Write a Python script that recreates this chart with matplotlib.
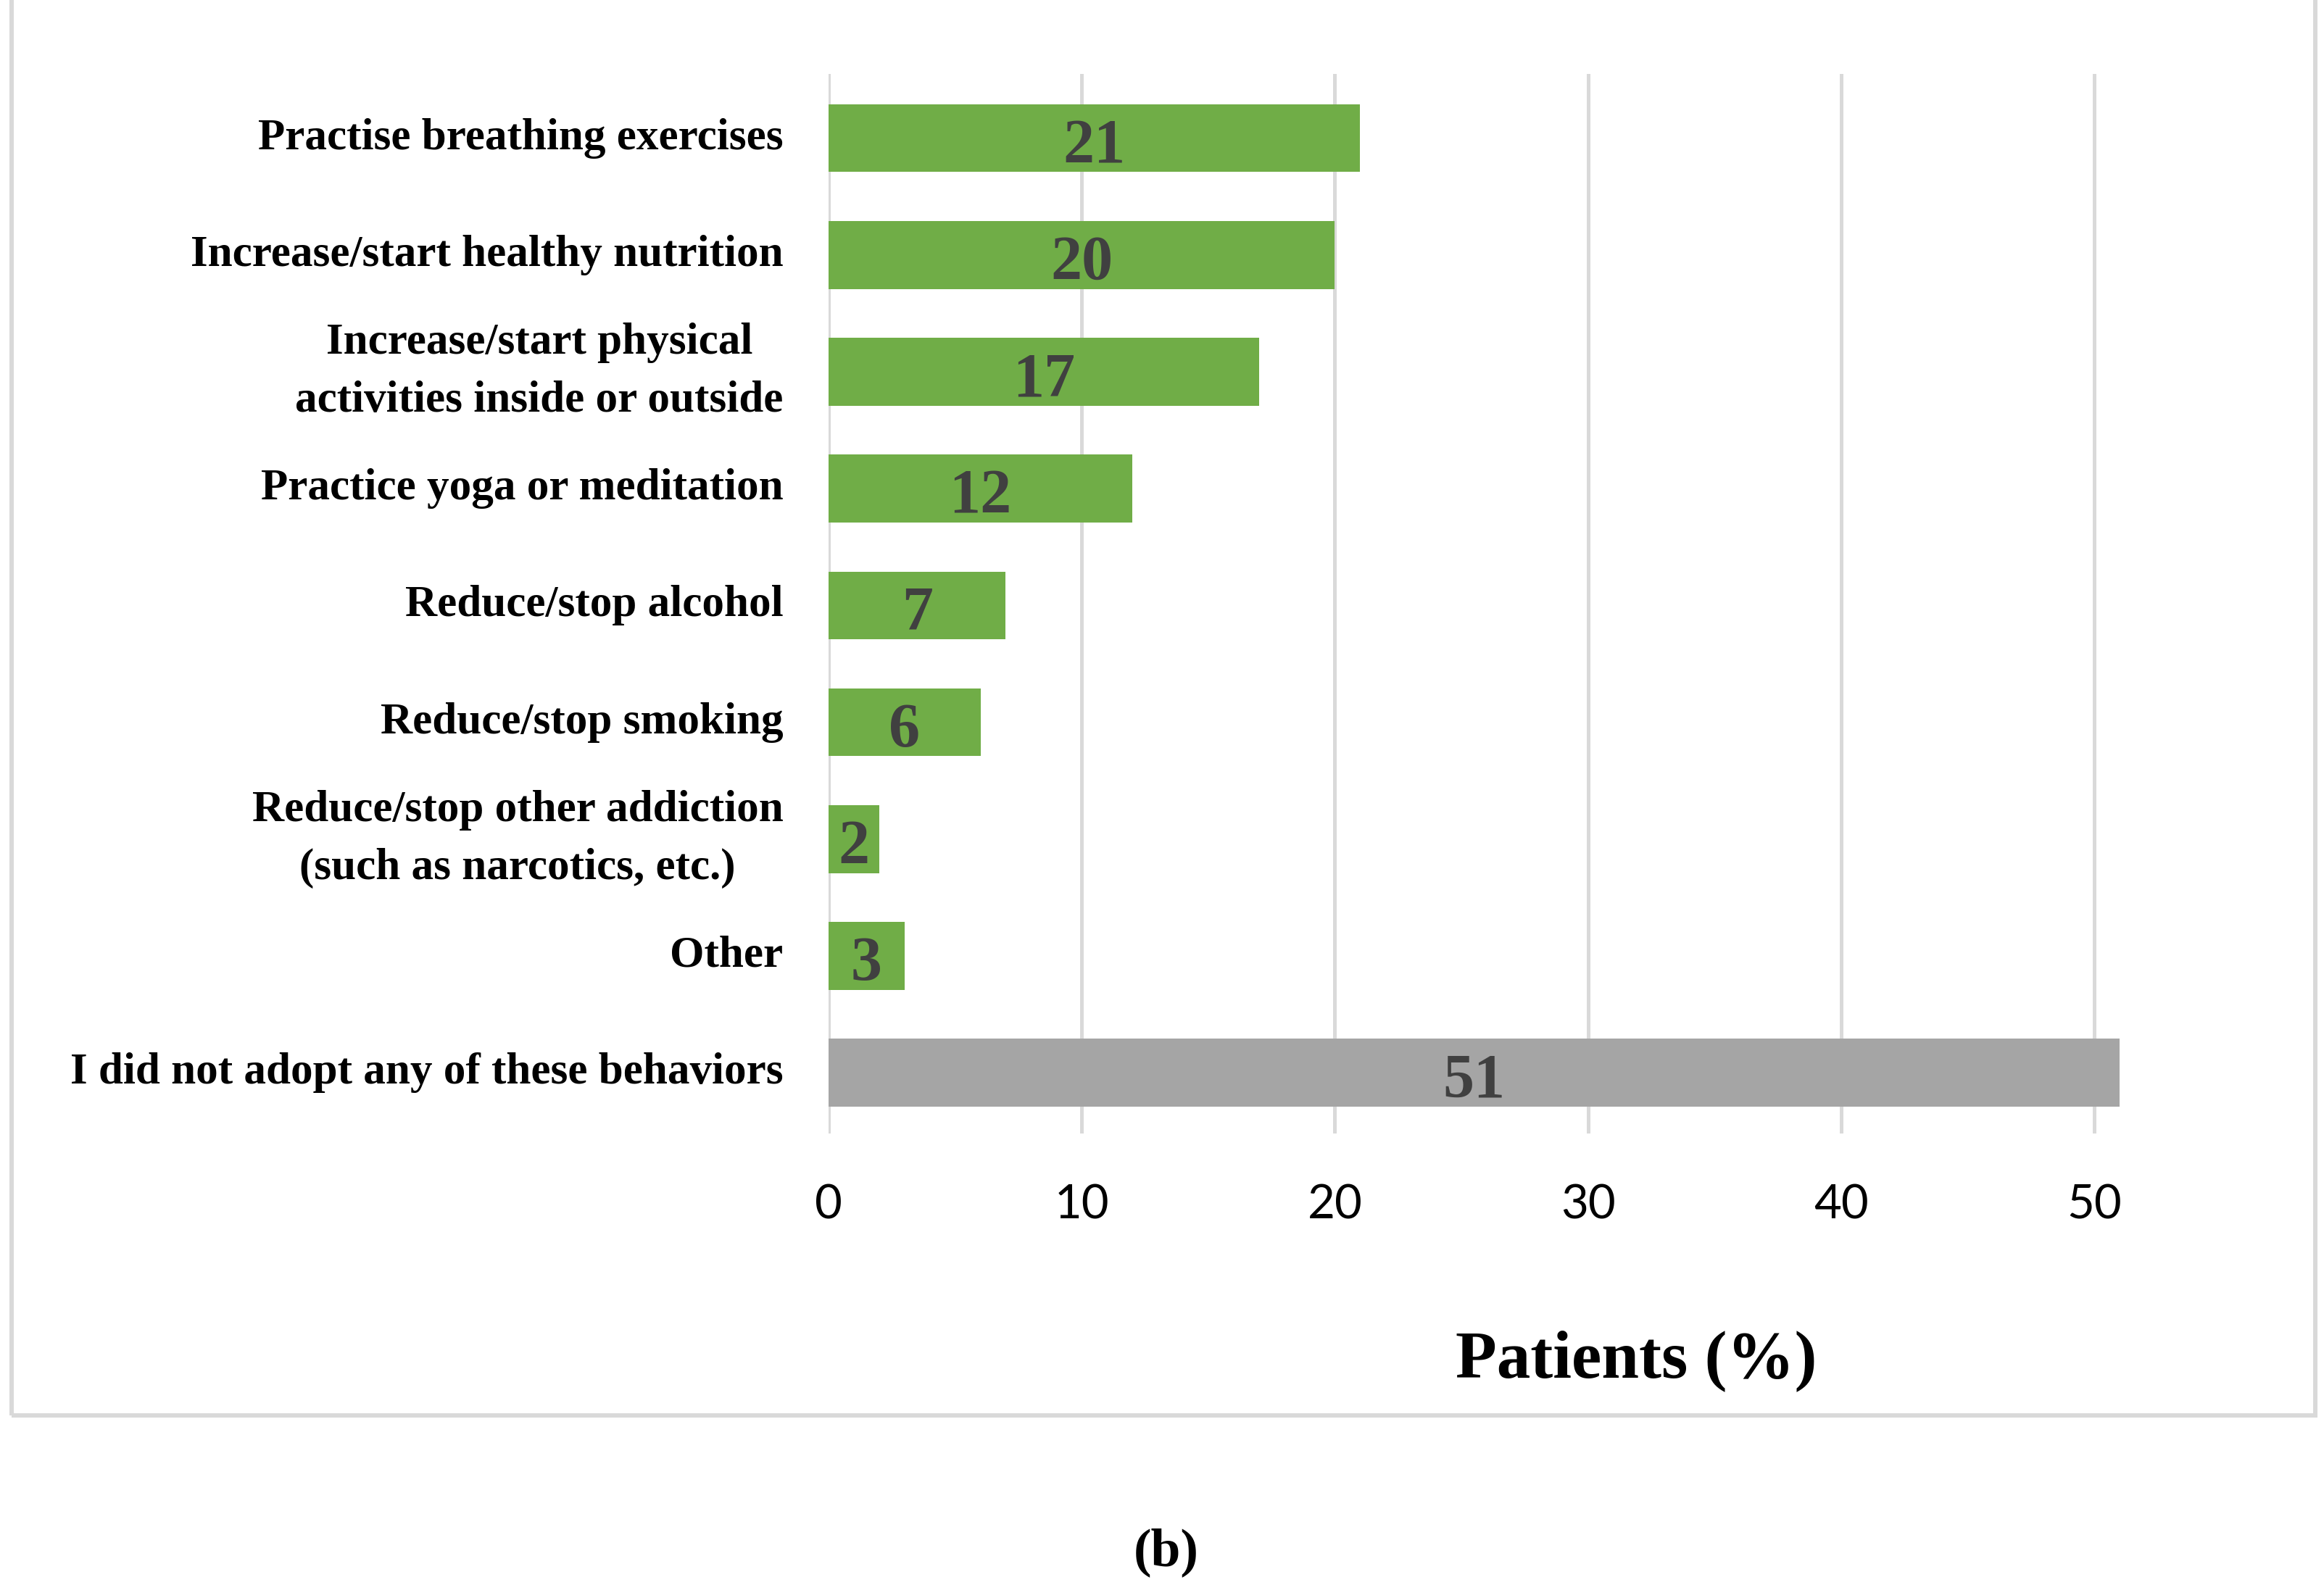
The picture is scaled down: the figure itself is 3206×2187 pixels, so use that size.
import matplotlib.pyplot as plt
from matplotlib.patches import Rectangle

# data
categories = [
    'Practise breathing exercises',
    'Increase/start healthy nutrition',
    'Increase/start physical\nactivities inside or outside',
    'Practice yoga or meditation',
    'Reduce/stop alcohol',
    'Reduce/stop smoking',
    'Reduce/stop other addiction\n(such as narcotics, etc.)',
    'Other',
    'I did not adopt any of these behaviors',
]
values = [21, 20, 17, 12, 7, 6, 2, 3, 51]
bar_colors = ['#70AD47'] * 8 + ['#A5A5A5']
xticks = [0, 10, 20, 30, 40, 50]

W, H = 3206, 2187
fig = plt.figure(figsize=(W / 100, H / 100), dpi=100)

x0, x50 = 1143, 2889
ppu = (x50 - x0) / 50
xmax = 55
left = x0 / W
width = xmax * ppu / W
top_px, bot_px = 102, 1564
ax = fig.add_axes([left, 1 - bot_px / H, width, (bot_px - top_px) / H])

y = list(range(len(categories)))
ax.barh(y, values, height=0.58, color=bar_colors, zorder=3)
ax.set_ylim(8.52, -0.55)
ax.set_xlim(0, xmax)

ax.set_xticks(xticks)
ax.set_xticklabels([str(t) for t in xticks], fontsize=47, family='Lato')
ax.grid(axis='x', color='#D9D9D9', linewidth=3.6, zorder=0)
ax.tick_params(axis='x', length=0, pad=50)
ax.tick_params(axis='y', length=0, pad=45)

ax.set_yticks(y)
ax.set_yticklabels(categories, fontsize=44, family='Liberation Serif',
                   fontweight='bold', linespacing=1.55)
for lbl in ax.get_yticklabels():
    lbl.set_multialignment('center')
    lbl.set_verticalalignment('center')

for spine in ax.spines.values():
    spine.set_visible(False)

for yi, v in zip(y, values):
    ax.text(v / 2, yi + 0.08, str(v), ha='center', va='center', fontsize=62,
            family='Liberation Serif', fontweight='bold', color='#404040',
            zorder=4)

fig.text(2257 / W, 1 - 1878 / H, 'Patients (%)', ha='center', va='center',
         fontsize=67, family='Liberation Serif', fontweight='bold')
fig.text(1609 / W, 1 - 2142 / H, '(b)', ha='center', va='center',
         fontsize=53, family='Liberation Serif', fontweight='bold')

# outer frame
fig.patches.append(Rectangle((16 / W, 1 - 1953 / H), (3194 - 16) / W, 1953 / H + 0.01,
                             transform=fig.transFigure, fill=False,
                             edgecolor='#D9D9D9', linewidth=4.3))

fig.savefig('out.png', dpi=100)
